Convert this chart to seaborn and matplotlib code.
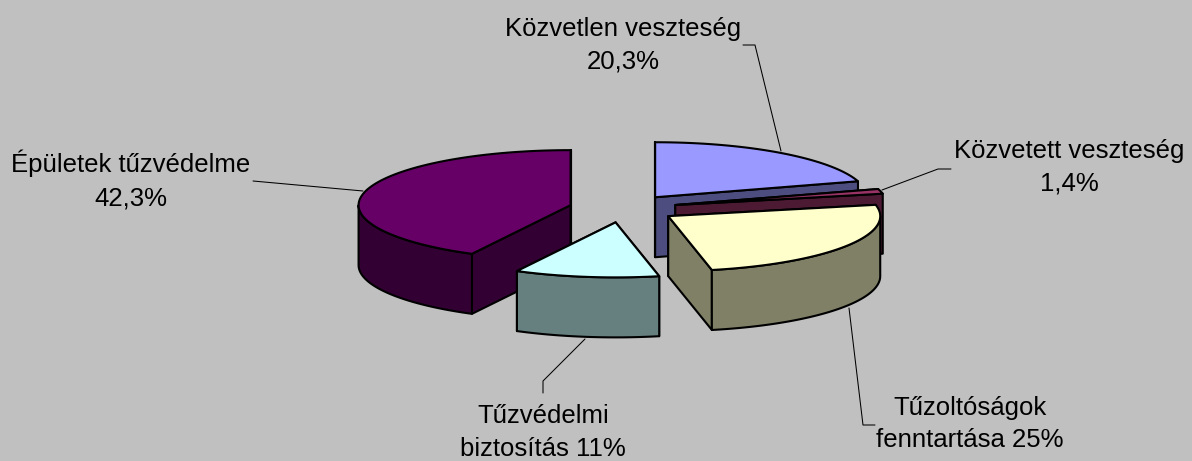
import numpy as np
import matplotlib
matplotlib.use('Agg')
import matplotlib.pyplot as plt
import seaborn as sns

# Slices in clockwise order, starting at 12 o'clock
shares = [20.3, 1.4, 25.0, 11.0, 42.3]
labels = [
    'Közvetlen veszteség\n20,3%',
    'Közvetett veszteség\n1,4%',
    'Tűzoltóságok\nfenntartása 25%',
    'Tűzvédelmi\nbiztosítás 11%',
    'Épületek tűzvédelme\n42,3%',
]
top_colors = ['#9999FF', '#993366', '#FFFFCC', '#CCFFFF', '#660066']

# Back to front, so nearer slices cover the ones behind them
draw_order = [0, 1, 2, 4, 3]

# Pie geometry in pixels
CENTER_X, CENTER_Y = 623, 208.5
RADIUS_X, RADIUS_Y = 212, 55
EXPLODE = 54
DEPTH = 60
EDGE_WIDTH = 1.5

label_pos = [(623, 45), (1069, 167.5), (970, 424), (543, 432.5), (131, 180)]
leaders = [
    [(743, 45), (755, 45), (781, 151)],
    [(882, 190), (938, 169), (951, 169)],
    [(849, 308), (863, 425), (875, 425)],
    [(585, 339), (543, 381), (543, 393)],
    [(253, 181), (363, 191)],
]


def arc_points(apex, start, end):
    angles = np.linspace(start, end, 80)
    x = apex[0] + RADIUS_X * np.sin(angles)
    y = apex[1] - RADIUS_Y * np.cos(angles)
    return np.column_stack([x, y])


def draw_slice(ax, start, end, color):
    mid = (start + end) / 2
    apex = (CENTER_X + EXPLODE * np.sin(mid),
            CENTER_Y - EXPLODE * RADIUS_Y / RADIUS_X * np.cos(mid))
    side = tuple(c * 0.5 for c in color)
    down = np.array([0, DEPTH])
    style = dict(edgecolor='black', linewidth=EDGE_WIDTH, joinstyle='round')

    # Radial walls
    for angle in (start, end):
        rim = arc_points(apex, angle, angle)[0]
        wall = np.array([apex, rim, rim + down, np.array(apex) + down])
        ax.fill(wall[:, 0], wall[:, 1], facecolor=side, **style)

    # Outer wall, only the part that faces the viewer
    front_start = max(start, np.pi / 2)
    front_end = min(end, 3 * np.pi / 2)
    if front_end > front_start:
        rim = arc_points(apex, front_start, front_end)
        wall = np.vstack([rim, rim[::-1] + down])
        ax.fill(wall[:, 0], wall[:, 1], facecolor=side, **style)

    top = np.vstack([[apex], arc_points(apex, start, end)])
    ax.fill(top[:, 0], top[:, 1], facecolor=color, **style)


sns.set_theme(style='white')
plt.rcParams['font.family'] = ['Liberation Sans', 'DejaVu Sans']

fig = plt.figure(figsize=(11.92, 4.61), dpi=100, facecolor='#C0C0C0')
ax = fig.add_axes([0, 0, 1, 1])
ax.set_xlim(0, 1192)
ax.set_ylim(461, 0)
ax.axis('off')

palette = sns.color_palette(top_colors)
bounds = np.concatenate([[0], np.cumsum(shares)]) / np.sum(shares) * 2 * np.pi

for line in leaders:
    xs, ys = zip(*line)
    ax.plot(xs, ys, color='black', linewidth=0.75, zorder=1)

for i in draw_order:
    draw_slice(ax, bounds[i], bounds[i + 1], palette[i])

for text, (x, y) in zip(labels, label_pos):
    ax.text(x, y, text, ha='center', va='center', fontsize=18.5,
            color='black', linespacing=1.46)

fig.savefig('out.png', dpi=100, facecolor=fig.get_facecolor())
